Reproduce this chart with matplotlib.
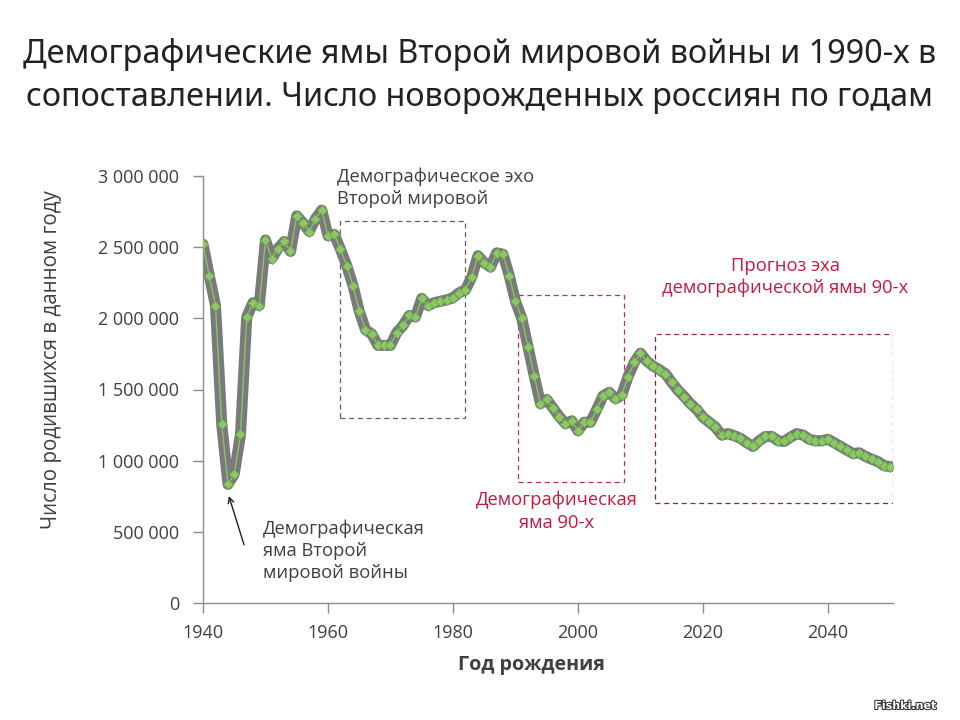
import matplotlib
matplotlib.use("Agg")
import matplotlib.pyplot as plt
import matplotlib.patheffects as pe
from matplotlib.patches import Rectangle
from matplotlib.ticker import FuncFormatter

years = list(range(1940, 2051))
births_mln = [
    2.52, 2.30, 2.09, 1.255, 0.834, 0.906, 1.185, 2.01, 2.11, 2.09,   # 1940-1949
    2.55, 2.42, 2.49, 2.54, 2.47, 2.72, 2.67, 2.61, 2.70, 2.76,       # 1950-1959
    2.58, 2.59, 2.485, 2.37, 2.23, 2.05, 1.92, 1.89, 1.81, 1.81,      # 1960-1969
    1.81, 1.90, 1.95, 2.02, 2.01, 2.14, 2.09, 2.11, 2.12, 2.13,       # 1970-1979
    2.145, 2.18, 2.20, 2.29, 2.44, 2.39, 2.36, 2.46, 2.45, 2.30,      # 1980-1989
    2.12, 2.00, 1.80, 1.595, 1.40, 1.43, 1.37, 1.31, 1.26, 1.28,      # 1990-1999
    1.21, 1.27, 1.27, 1.36, 1.455, 1.48, 1.435, 1.46, 1.59, 1.69,     # 2000-2009
    1.755, 1.70, 1.665, 1.64, 1.61, 1.55, 1.495, 1.45, 1.40, 1.36,    # 2010-2019
    1.305, 1.27, 1.235, 1.18, 1.19, 1.175, 1.157, 1.126, 1.10, 1.14,  # 2020-2029
    1.17, 1.17, 1.14, 1.135, 1.165, 1.19, 1.18, 1.15, 1.14, 1.14,     # 2030-2039
    1.15, 1.126, 1.10, 1.075, 1.05, 1.055, 1.03, 1.01, 0.993, 0.965,  # 2040-2049
    0.958,                                                            # 2050
]
births = [v * 1e6 for v in births_mln]

x_ticks = [1940, 1960, 1980, 2000, 2020, 2040]
y_ticks = [0, 500000, 1000000, 1500000, 2000000, 2500000, 3000000]

title = "Демографические ямы Второй мировой войны и 1990-х в\nсопоставлении. Число новорожденных россиян по годам"
xlabel = "Год рождения"
ylabel = "Число родившихся в данном году"

# highlighted regions: (x0, x1, y0, y1)
box_echo_ww2 = (1962, 1982, 1.30e6, 2.685e6)
box_pit_90s = (1990.4, 2007.4, 0.85e6, 2.165e6)
box_forecast = (2012.3, 2050.4, 0.70e6, 1.89e6)

BODY = ["Open Sans", "DejaVu Sans"]
TITLE_FONT = ["Noto Sans", "DejaVu Sans"]
TXT = "#404040"
RED = "#c8193c"
AX = "#8c8c8c"

fig = plt.figure(figsize=(9.6, 7.2), dpi=100)
ax = fig.add_axes([203 / 960, 1 - 603 / 720, (893 - 203) / 960, (603 - 176) / 720])

ax.plot(years, births, color="#7a7a7a", lw=8, solid_joinstyle="round",
        solid_capstyle="round", zorder=2)
ax.plot(years, births, color="#8cc265", lw=1.0, marker="D", ms=5.2,
        markerfacecolor="#8cc865", markeredgecolor="#6aa84f", markeredgewidth=0.6, zorder=3)

ax.set_xlim(1940, 2050.4)
ax.set_ylim(0, 3000000)
ax.set_xticks(x_ticks)
ax.set_yticks(y_ticks)
ax.yaxis.set_major_formatter(FuncFormatter(lambda v, p: f"{int(v):,}".replace(",", " ")))
for s in ["top", "right"]:
    ax.spines[s].set_visible(False)
for s in ["left", "bottom"]:
    ax.spines[s].set_color(AX)
    ax.spines[s].set_linewidth(1.0)
ax.tick_params(axis="both", colors=AX, length=7, width=1.0, labelcolor=TXT, labelsize=13)
ax.tick_params(axis="y", pad=10)
ax.tick_params(axis="x", pad=8)
for lab in ax.get_xticklabels() + ax.get_yticklabels():
    lab.set_fontfamily(BODY)

ax.set_xlabel(xlabel, fontsize=14.2, fontweight="bold", color=TXT, family=BODY)
ax.set_ylabel(ylabel, fontsize=14.8, color=TXT, family=BODY)
ax.xaxis.set_label_coords((531 - 203) / 690, (603 - 665) / 427)
ax.yaxis.set_label_coords((52 - 203) / 690, (603 - 360) / 427)
ax.xaxis.label.set_va("center")
ax.yaxis.label.set_va("center")

fig.text(0.5, 1 - 76 / 720, title, ha="center", va="center", fontsize=23.3,
         color="#222222", family=TITLE_FONT, linespacing=1.38)

for (x0, x1, y0, y1), col in [(box_echo_ww2, "#606060"), (box_pit_90s, "#c0304a"),
                              (box_forecast, "#9a2040")]:
    ax.add_patch(Rectangle((x0, y0), x1 - x0, y1 - y0, fill=False, edgecolor=col,
                           lw=0.9, ls=(0, (4, 3)), zorder=1))

FS = 13.2
ax.text(1961.4, 2.92e6, "Демографическое эхо\nВторой мировой", ha="left", va="center",
        fontsize=FS, color=TXT, family=BODY, linespacing=1.3, clip_on=False)
ax.text(2033.2, 2.29e6, "Прогноз эха\nдемографической ямы 90-х", ha="center", va="center",
        fontsize=FS, color=RED, family=BODY, linespacing=1.3, clip_on=False)
ax.text(1996.6, 0.645e6, "Демографическая\nяма 90-х", ha="center", va="center",
        fontsize=FS, color=RED, family=BODY, linespacing=1.3, clip_on=False)
ax.text(1949.6, 0.365e6, "Демографическая\nяма Второй\nмировой войны", ha="left", va="center",
        fontsize=FS, color=TXT, family=BODY, linespacing=1.3, clip_on=False)
ax.annotate("", xy=(1944.0, 0.77e6), xytext=(1946.7, 0.39e6),
            arrowprops=dict(arrowstyle="->", color="#222222", lw=1.0))

fig.text(0.975, 1 - 706 / 720, "Fishki.net", ha="right", va="center", fontsize=8,
         color="white", family=["DejaVu Sans"], fontweight="bold",
         path_effects=[pe.withStroke(linewidth=1.5, foreground="#333333")])

fig.savefig("out.png", dpi=100)
